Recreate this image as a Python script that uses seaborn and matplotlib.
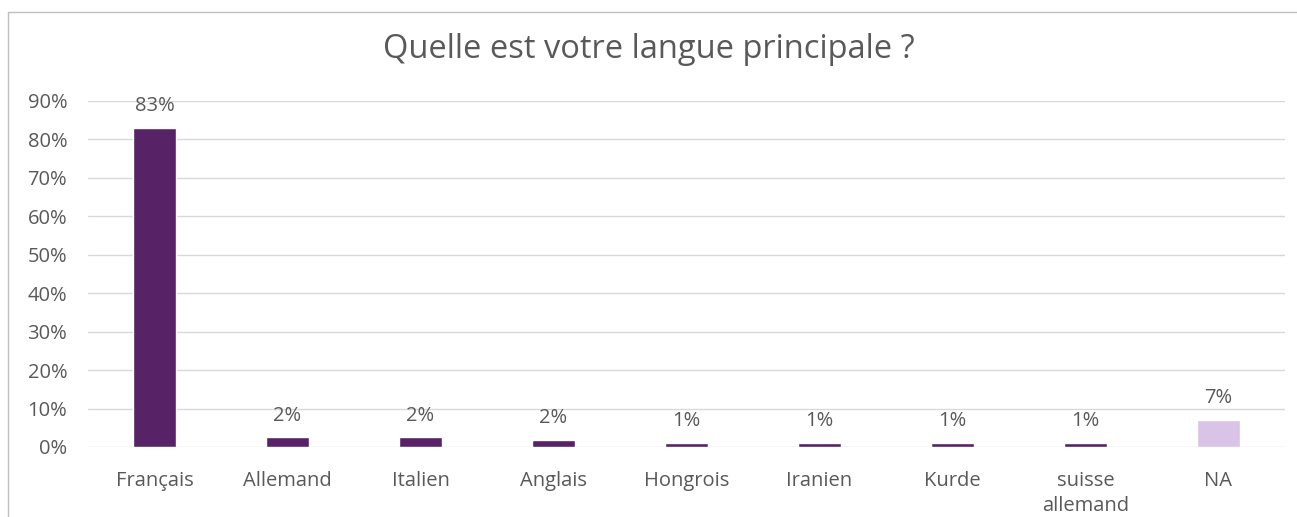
import matplotlib
matplotlib.use("Agg")
import matplotlib.pyplot as plt
import seaborn as sns
from matplotlib.lines import Line2D

categories = ["Français", "Allemand", "Italien", "Anglais", "Hongrois",
              "Iranien", "Kurde", "suisse\nallemand", "NA"]
values = [83.0, 2.5, 2.5, 1.8, 1.0, 1.0, 1.0, 1.0, 7.1]
labels = ["83%", "2%", "2%", "2%", "1%", "1%", "1%", "1%", "7%"]
colors = ["#582266"] * 8 + ["#D9C3E6"]
yticks = [0, 10, 20, 30, 40, 50, 60, 70, 80, 90]

sns.set_theme(style="white")
plt.rcParams["font.family"] = ["Open Sans", "DejaVu Sans"]

W, H = 1297, 517
fig = plt.figure(figsize=(W / 100, H / 100), dpi=100)
ax = fig.add_axes([88 / W, 70 / H, (1285 - 88) / W, (447 - 101) / H])

sns.barplot(x=categories, y=values, hue=categories, palette=colors,
            legend=False, width=0.33, ax=ax, saturation=1)

for cont, lab in zip(ax.containers, labels):
    ax.bar_label(cont, labels=[lab], padding=8.5, fontsize=14.5, color="#595959")

ax.set_ylim(0, 90)
ax.set_yticks(yticks)
ax.set_yticklabels([f"{t}%" for t in yticks], fontsize=14.5, color="#595959")
ax.tick_params(axis="x", labelsize=14.5, labelcolor="#595959", pad=17, length=0)
ax.tick_params(axis="y", length=0, pad=15)
for t in ax.get_xticklabels():
    t.set_linespacing(1.35)
ax.yaxis.grid(True, color="#D9D9D9", linewidth=1)
ax.set_axisbelow(True)
for s in ax.spines.values():
    s.set_visible(False)
ax.set_xlabel("")
ax.set_ylabel("")
ax.set_xlim(-0.5, len(categories) - 0.5)

fig.text(0.5, 1 - 49 / H, "Quelle est votre langue principale ?",
         ha="center", va="center", fontsize=23.5, color="#595959")

# outer chart frame (top and left edges)
fig.add_artist(Line2D([8 / W, 1.0], [1 - 12 / H, 1 - 12 / H],
                      transform=fig.transFigure, color="#BFBFBF", linewidth=1))
fig.add_artist(Line2D([8 / W, 8 / W], [0, 1 - 12 / H],
                      transform=fig.transFigure, color="#BFBFBF", linewidth=1))

fig.savefig("out.png", dpi=100)
